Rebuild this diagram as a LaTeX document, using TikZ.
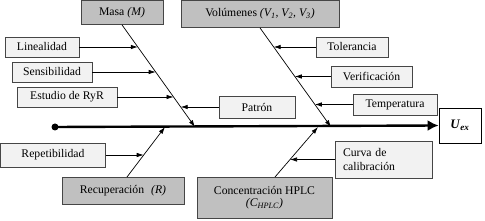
\documentclass[tikz,border=0pt]{standalone}
\usepackage{fontspec}
\setmainfont{Liberation Serif}
\usepackage{tikz}
\usetikzlibrary{positioning, calc, arrows.meta, intersections}

\definecolor{causegray}{RGB}{192,192,192}
\definecolor{subgray}{RGB}{242,242,242}
\definecolor{edgegray}{RGB}{70,70,70}

\begin{document}
\begin{tikzpicture}[
        x=1pt, y=-1pt,
        font=\fontsize{11.7}{13.5}\selectfont,
        cause/.style={
            draw=edgegray,
            line width=0.8pt,
            fill=causegray,
            inner sep=0pt
        },
        subcause/.style={
            draw=edgegray,
            line width=0.7pt,
            fill=subgray,
            inner sep=0pt
        },
        bone/.style={line width=0.7pt, -{Latex[length=7pt,width=4.5pt]}},
        twig/.style={line width=0.7pt, -{Latex[length=7pt,width=4.5pt]}}
    ]
        \useasboundingbox (0,0) rectangle (485,221);

        % Main causes (gray boxes)
        \node[cause, minimum width=82pt, minimum height=24pt] (masa) at (122,12.5) {Masa \textit{(M)}};
        \node[cause, minimum width=158pt, minimum height=27pt] (vol) at (260,14) {Volúmenes \textit{(V\textsubscript{1}, V\textsubscript{2}, V\textsubscript{3})}};
        \node[cause, minimum width=122pt, minimum height=27pt] (rec) at (123,190.5) {Recuperación\hspace{0.6em}\textit{(R)}};
        \node[cause, minimum width=135pt, minimum height=41pt, align=center] (con) at (264.5,197.5) {Concentración HPLC\\[-1pt]\textit{(C\textsubscript{HPLC})}};

        % Sub-causes (light boxes)
        \node[subcause, minimum width=74pt, minimum height=20pt] (lin) at (42,47) {Linealidad};
        \node[subcause, minimum width=80pt, minimum height=20pt] (sen) at (52,72) {Sensibilidad};
        \node[subcause, minimum width=100pt, minimum height=20pt] (rr) at (67,97) {Estudio de RyR};
        \node[subcause, minimum width=76pt, minimum height=22pt] (pat) at (257,107) {Patrón};
        \node[subcause, minimum width=72pt, minimum height=20pt] (tol) at (352,47) {Tolerancia};
        \node[subcause, minimum width=81pt, minimum height=21pt] (ver) at (371.5,76.5) {Verificación};
        \node[subcause, minimum width=84pt, minimum height=21pt] (tem) at (395,104.5) {Temperatura};
        \node[subcause, minimum width=105pt, minimum height=24pt] (rep) at (53,155) {Repetibilidad};
        \node[subcause, text width=81pt, inner xsep=8pt, minimum height=37pt, align=left] (cur) at (383.5,159.5) {Curva de\\calibración};

        % Effect
        \node[draw, line width=0.8pt, fill=white, minimum width=42pt, minimum height=35pt] (uex) at (460,125.5)
            {\fontsize{13}{15}\selectfont\textbf{\textit{U}}\textsubscript{\textbf{\textit{ex}}}};

        % Spine
        \coordinate (start) at (55,127);
        \fill (start) circle (3.5pt);
        \draw[line width=2.4pt, -{Latex[length=11pt,width=11pt]}] (start) -- (uex.west);

        % Bones to the spine
        \coordinate (m1) at (195,127);
        \coordinate (v1) at (331,127);
        \coordinate (r1) at (165,127);
        \coordinate (c1) at (318,127);
        \coordinate (rtail) at (127,177);
        \coordinate (ctail) at (275,177);
        \draw[bone, name path=mbone] (masa.south) -- (m1);
        \draw[bone, name path=vbone] (vol.south) -- (v1);
        \draw[bone, name path=rbone] (rtail) -- (r1);
        \draw[bone, name path=cbone] (ctail) -- (c1);

        % Twigs from sub-causes
        \foreach \n/\side/\dx/\bn in {lin/east/1/mbone, sen/east/1/mbone, rr/east/1/mbone,
                pat/west/-1/mbone, tol/west/-1/vbone, ver/west/-1/vbone, tem/west/-1/vbone,
                rep/east/1/rbone, cur/west/-1/cbone}{
            \path[name path=hz] (\n.\side) -- ++(\dx*150,0);
            \draw[twig, name intersections={of=hz and \bn}] (\n.\side) -- (intersection-1);
        }

    \end{tikzpicture}
\end{document}
